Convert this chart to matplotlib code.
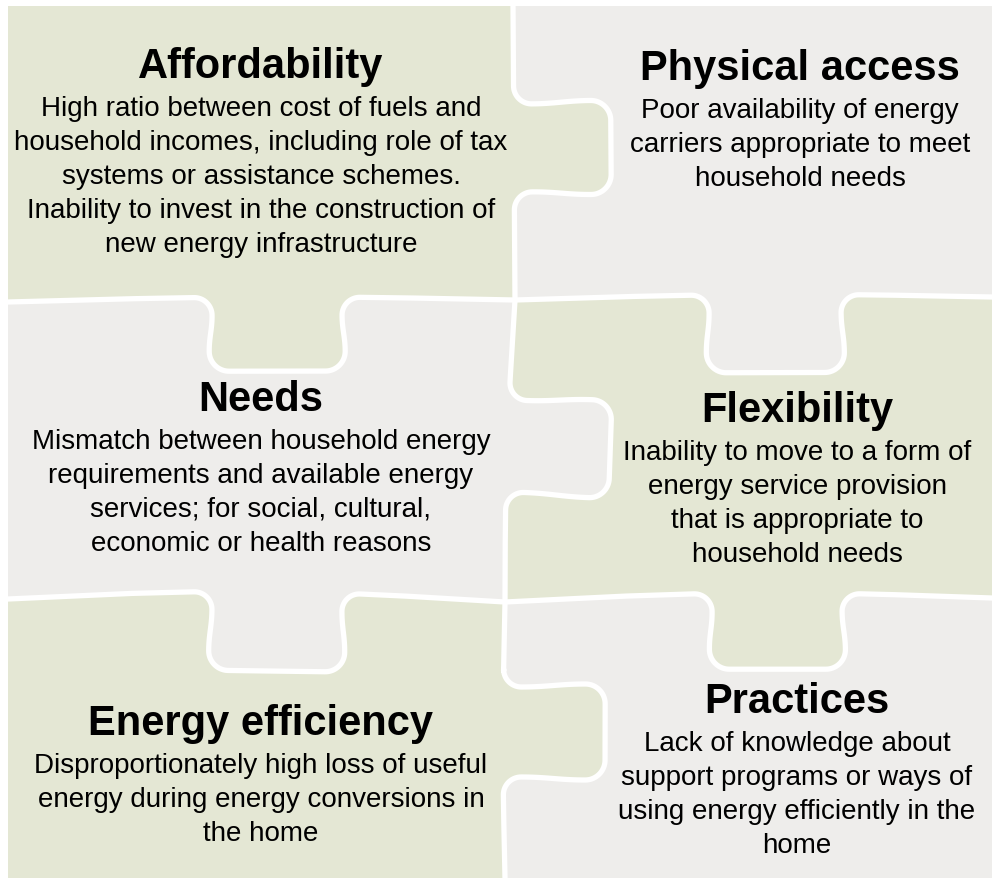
import numpy as np
import matplotlib
matplotlib.use("Agg")
import matplotlib.pyplot as plt
from matplotlib.patches import Polygon

## the text of the six pieces
titles = ["Affordability", "Physical access", "Needs",
          "Flexibility", "Energy efficiency", "Practices"]
descriptions = [
    ["High ratio between cost of fuels and",
     "household incomes, including role of tax",
     "systems or assistance schemes.",
     "Inability to invest in the construction of",
     "new energy infrastructure"],
    ["Poor availability of energy",
     "carriers appropriate to meet",
     "household needs"],
    ["Mismatch between household energy",
     "requirements and available energy",
     "services; for social, cultural,",
     "economic or health reasons"],
    ["Inability to move to a form of",
     "energy service provision",
     "that is appropriate to",
     "household needs"],
    ["Disproportionately high loss of useful",
     "energy during energy conversions in",
     "the home"],
    ["Lack of knowledge about",
     "support programs or ways of",
     "using energy efficiently in the",
     "home"],
]

GREEN = "#e4e7d4"
GRAY = "#eeedeb"
piece_colors = [GREEN, GRAY, GRAY, GREEN, GREEN, GRAY]
# title centre x and baseline y, in pixels
title_pos = [(261, 78), (800, 80), (261, 411), (797, 422), (261, 735), (797, 713)]


def cubic(p0, p1, p2, p3, n=20):
    t = np.linspace(0, 1, n)[:, None]
    p0, p1, p2, p3 = map(np.array, (p0, p1, p2, p3))
    return (1-t)**3*p0 + 3*(1-t)**2*t*p1 + 3*(1-t)*t**2*p2 + t**3*p3


def tab_edge(p0, p1, at, h, d, sign=1, f=18, r=20, b=3, bow=0):
    # edge from p0 to p1 with a puzzle tab centred at coordinate `at`
    p0 = np.array(p0, float)
    p1 = np.array(p1, float)
    L = np.linalg.norm(p1 - p0)
    u = (p1 - p0) / L
    n = np.array([-u[1], u[0]]) * sign
    ax_i = 0 if abs(u[0]) > abs(u[1]) else 1
    c = (at - p0[ax_i]) / u[ax_i]
    m = d - r - f
    pts = [np.array([[0, 0], [L*0.25, 0], [c-h-f, 0]])]
    pts.append(cubic((c-h-f, 0), (c-h-f*0.45, 0), (c-h, f*0.45), (c-h, f)))
    pts.append(cubic((c-h, f), (c-h, f+m*0.4), (c-h-b, d-r-m*0.4), (c-h-b, d-r)))
    pts.append(cubic((c-h-b, d-r), (c-h-b, d-r*0.45), (c-h-b+r*0.45, d), (c-h-b+r, d)))
    pts.append(cubic((c+h+b-r, d), (c+h+b-r*0.45, d), (c+h+b, d-r*0.45), (c+h+b, d-r)))
    pts.append(cubic((c+h+b, d-r), (c+h+b, d-r-m*0.4), (c+h, f+m*0.4), (c+h, f)))
    pts.append(cubic((c+h, f), (c+h, f*0.45), (c+h+f*0.45, 0), (c+h+f, 0)))
    pts.append(np.array([[L*0.8, 0], [L, 0]]))
    sv = np.vstack(pts)
    sv[:, 1] += bow * np.sin(np.pi * np.clip(sv[:, 0] / L, 0, 1))
    return p0 + sv[:, :1]*u + sv[:, 1:]*n


# grid nodes (pixels, y down)
TL, TR, BL, BR = (8, 7), (992, 7), (8, 879), (992, 879)
A, B, C, D = (513, 7), (515, 301), (505, 603), (505, 879)
L1, L2 = (8, 303), (8, 600)
R1, R2 = (992, 298), (992, 599)

V1 = tab_edge(A, B, 149, 44, 97, sign=-1)
V2 = tab_edge(B, C, 447, 46, 103, sign=-1, bow=-3)
V3 = tab_edge(C, D, 733, 45, 102, sign=-1, bow=-2)
H1L = tab_edge(L1, B, 277, 65, 74, bow=-4)
H1R = tab_edge(B, R1, 775, 66, 78, bow=-4)
H2L = tab_edge(L2, C, 277, 65, 79, bow=-9)
H2R = tab_edge(C, R2, 777, 65, 76, bow=-7)

pieces = [
    np.vstack([[TL], V1, H1L[::-1]]),
    np.vstack([[TR], [R1], H1R[::-1], V1[::-1]]),
    np.vstack([H1L, V2, H2L[::-1]]),
    np.vstack([H1R, [R2], H2R[::-1], V2[::-1]]),
    np.vstack([H2L, V3, [BL]]),
    np.vstack([H2R, [BR], V3[::-1]]),
]

fig = plt.figure(figsize=(9.92, 8.79), dpi=100)
ax = fig.add_axes([0, 0, 1, 1])
ax.set_xlim(0, 992)
ax.set_ylim(879, 0)
ax.axis("off")

for poly, col in zip(pieces, piece_colors):
    ax.add_patch(Polygon(poly, closed=True, facecolor=col, edgecolor="none"))

for e in [V1, V2, V3, H1L, H1R, H2L, H2R]:
    ax.plot(e[:, 0], e[:, 1], color="white", lw=3.8,
            solid_capstyle="round", solid_joinstyle="round")

for (x, y), t, lines in zip(title_pos, titles, descriptions):
    ax.text(x, y, t, ha="center", va="baseline", fontsize=30,
            fontweight="bold", family="Liberation Sans")
    for i, ln in enumerate(lines):
        ax.text(x, y + 38 + 34*i, ln, ha="center", va="baseline",
                fontsize=20, family="Liberation Sans")

fig.savefig("out.png", dpi=100)
